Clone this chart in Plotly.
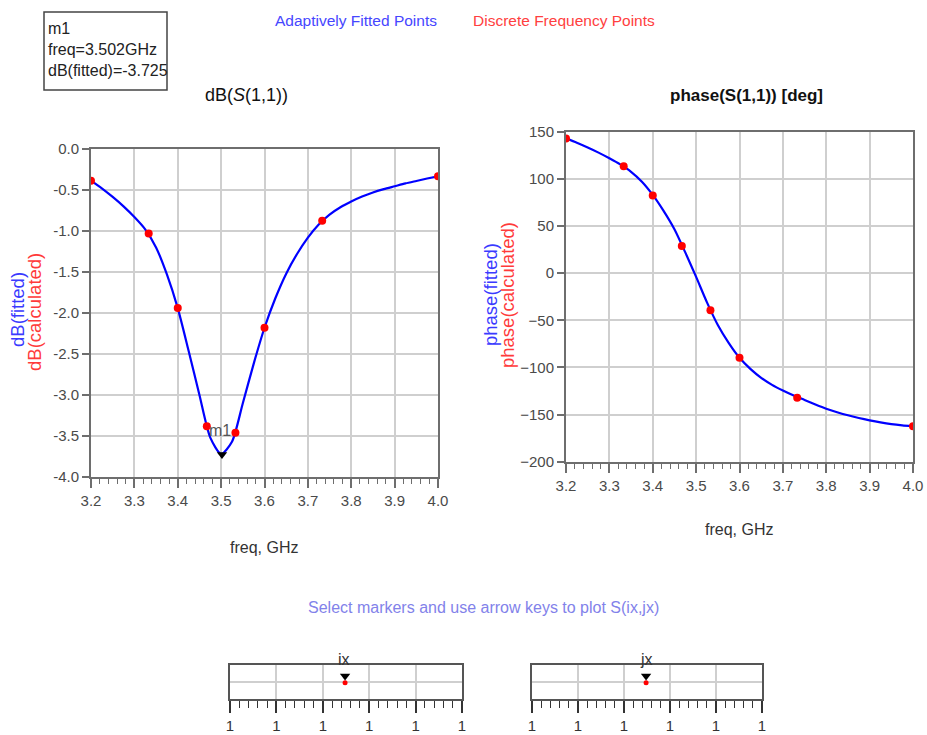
import plotly.graph_objects as go

# ---------------- data ----------------
freq_discrete = [3.2, 3.333, 3.4, 3.467, 3.533, 3.6, 3.733, 4.0]
db_calculated = [-0.386, -1.03, -1.94, -3.38, -3.46, -2.18, -0.874, -0.333]
phase_calculated = [142.9, 113.3, 82.3, 28.9, -39.5, -89.8, -132.2, -162.4]

freq_fit = [3.2, 3.225, 3.25, 3.275, 3.3, 3.325, 3.35, 3.375, 3.4, 3.425, 3.45, 3.475, 3.5,
            3.525, 3.55, 3.575, 3.6, 3.625, 3.65, 3.675, 3.7, 3.725, 3.75, 3.775, 3.8,
            3.825, 3.85, 3.875, 3.9, 3.925, 3.95, 3.975, 4.0]
db_fitted = [-0.386, -0.48, -0.585, -0.70, -0.83, -0.98, -1.20, -1.53, -1.94, -2.46, -3.0, -3.52, -3.72,
             -3.57, -3.10, -2.62, -2.18, -1.82, -1.52, -1.28, -1.08, -0.92, -0.80, -0.71, -0.64,
             -0.58, -0.53, -0.49, -0.455, -0.42, -0.39, -0.36, -0.333]
phase_fitted = [142.9, 138.2, 133.2, 127.8, 121.8, 115.3, 107.5, 97.0, 83.0, 66.0, 46.5, 22.0, -4.0,
                -31.0, -55.0, -74.0, -89.8, -101.5, -111.0, -118.5, -124.5, -129.8, -134.5, -139.3, -143.8,
                -147.5, -150.8, -153.6, -156.1, -158.3, -160.1, -161.4, -162.4]

marker_freq = 3.502
marker_db = -3.725

x_ticks = [3.2, 3.3, 3.4, 3.5, 3.6, 3.7, 3.8, 3.9, 4.0]
x_ticktext = ["3.2", "3.3", "3.4", "3.5", "3.6", "3.7", "3.8", "3.9", "4.0"]
db_ticks = [0.0, -0.5, -1.0, -1.5, -2.0, -2.5, -3.0, -3.5, -4.0]
db_ticktext = ["0.0", "-0.5", "-1.0", "-1.5", "-2.0", "-2.5", "-3.0", "-3.5", "-4.0"]
phase_ticks = [150, 100, 50, 0, -50, -100, -150, -200]

slider_ticks = [0, 1, 2, 3, 4, 5]
slider_ticktext = ["1", "1", "1", "1", "1", "1"]
slider_marker_pos = [2.48, 2.48]

# ---------------- layout helpers ----------------
W, H = 927, 735
def fx(p):
    return p / W
def fy(p):
    return 1 - p / H

FONT = "Liberation Sans, Arial, sans-serif"
BLUE = "#0000ff"
RED = "#ff0000"
AX = "#6e6e6e"
GRID = "#cfcfcf"
TICKC = "#4a4a4a"

fig = go.Figure()

# left plot
fig.add_trace(go.Scatter(x=freq_fit, y=db_fitted, mode="lines", line=dict(color=BLUE, width=2.2, shape="spline", smoothing=0.7),
                         xaxis="x", yaxis="y", showlegend=False))
fig.add_trace(go.Scatter(x=freq_discrete, y=db_calculated, mode="markers", marker=dict(color=RED, size=8),
                         xaxis="x", yaxis="y", showlegend=False))
fig.add_trace(go.Scatter(x=[marker_freq], y=[marker_db], mode="markers",
                         marker=dict(symbol="triangle-down", color="black", size=9),
                         xaxis="x", yaxis="y", showlegend=False))
# right plot
fig.add_trace(go.Scatter(x=freq_fit, y=phase_fitted, mode="lines", line=dict(color=BLUE, width=2.2, shape="spline", smoothing=0.7),
                         xaxis="x2", yaxis="y2", showlegend=False))
fig.add_trace(go.Scatter(x=freq_discrete, y=phase_calculated, mode="markers", marker=dict(color=RED, size=8),
                         xaxis="x2", yaxis="y2", showlegend=False))
# slider markers
for i, ax in enumerate(["3", "4"]):
    fig.add_trace(go.Scatter(x=[slider_marker_pos[i]], y=[0.95], mode="markers",
                             marker=dict(color=RED, size=5), xaxis="x" + ax, yaxis="y" + ax, showlegend=False))
    fig.add_trace(go.Scatter(x=[slider_marker_pos[i]], y=[1.35], mode="markers",
                             marker=dict(symbol="triangle-down", color="black", size=9),
                             xaxis="x" + ax, yaxis="y" + ax, showlegend=False))

tickfont = dict(family=FONT, size=15, color=TICKC)

def freq_axis(domain, anchor):
    return dict(domain=domain, anchor=anchor, range=[3.2, 4.0], tickmode="array", tickvals=x_ticks,
                ticktext=x_ticktext, ticks="outside", ticklen=9, tickwidth=1.5, tickcolor=AX,
                minor=dict(dtick=0.02, tick0=3.2, ticks="outside", ticklen=5, tickwidth=1, tickcolor=AX, showgrid=False),
                showgrid=True, gridcolor=GRID, gridwidth=1.5, showline=True, mirror=True, linecolor=AX,
                linewidth=2, zeroline=False, tickfont=tickfont, fixedrange=True, automargin=False)

def slider_x(domain, anchor):
    return dict(domain=domain, anchor=anchor, range=[0, 5], tickmode="array", tickvals=slider_ticks,
                ticktext=slider_ticktext, ticks="outside", ticklen=12, tickwidth=1.5, tickcolor="#333",
                minor=dict(dtick=0.2, tick0=0, ticks="outside", ticklen=7, tickwidth=1, tickcolor="#333", showgrid=False),
                showgrid=True, gridcolor=GRID, gridwidth=1.5, showline=True, mirror=True, linecolor="#555",
                linewidth=1.5, zeroline=False, tickfont=dict(family=FONT, size=15, color="#333"), fixedrange=True,
                automargin=False)

def slider_y(domain, anchor):
    return dict(domain=domain, anchor=anchor, range=[0, 2], tickmode="array", tickvals=[1], showticklabels=False,
                ticks="", showgrid=True, gridcolor=GRID, gridwidth=1.5, showline=True, mirror=True,
                linecolor="#555", linewidth=1.5, zeroline=False, fixedrange=True, automargin=False)

layout = dict(
    width=W, height=H, margin=dict(l=0, r=0, t=0, b=0, pad=0, autoexpand=False),
    paper_bgcolor="white", plot_bgcolor="white", showlegend=False,
    xaxis=freq_axis([fx(91), fx(438)], "y"),
    yaxis=dict(domain=[fy(477), fy(149)], anchor="x", range=[-4.0, 0.0], tickmode="array", tickvals=db_ticks,
               ticktext=db_ticktext, ticks="outside", ticklen=7, tickwidth=1.5, tickcolor=AX,
               showgrid=True, gridcolor=GRID, gridwidth=1.5, showline=True, mirror=True, linecolor=AX,
               linewidth=2, zeroline=False, tickfont=tickfont, fixedrange=True, automargin=False),
    xaxis2=freq_axis([fx(566), fx(913)], "y2"),
    yaxis2=dict(domain=[fy(461.7), fy(131.7)], anchor="x2", range=[-200, 150], tickmode="array",
                tickvals=phase_ticks, ticks="outside", ticklen=7, tickwidth=1.5, tickcolor=AX,
                showgrid=True, gridcolor=GRID, gridwidth=1.5, showline=True, mirror=True, linecolor=AX,
                linewidth=2, zeroline=False, tickfont=tickfont, fixedrange=True, automargin=False),
    xaxis3=slider_x([fx(230), fx(462)], "y3"),
    yaxis3=slider_y([fy(699), fy(665)], "x3"),
    xaxis4=slider_x([fx(532), fx(762)], "y4"),
    yaxis4=slider_y([fy(699), fy(665)], "x4"),
)
fig.update_layout(**layout)

def ann(text, x, y, size=15.5, color="black", xanchor="center", yanchor="middle", angle=0, align="center"):
    fig.add_annotation(text=text, x=fx(x), y=fy(y), xref="paper", yref="paper", showarrow=False,
                       xanchor=xanchor, yanchor=yanchor, textangle=angle, align=align,
                       font=dict(family=FONT, size=size, color=color))

# marker readout box
fig.add_shape(type="rect", xref="paper", yref="paper", x0=fx(44), x1=fx(167), y0=fy(90), y1=fy(12),
              line=dict(color="#444", width=1.5))
ann("m1<br>freq=%.3fGHz<br>dB(fitted)=%.3f" % (marker_freq, marker_db), 46, 50, size=16, color="#222",
    xanchor="left", align="left")

# legend texts
ann("Adaptively Fitted Points", 356, 20, color="#4646ff")
ann("Discrete Frequency Points", 564, 20, color="#ff4040")

# titles
ann("dB(<i>S</i>(1,1))", 246, 95, size=18, color="#111")
ann("<b>phase(S(1,1)) [deg]</b>", 746, 95, size=17, color="#111")

# y-axis titles
ann("dB(fitted)", 17, 310, size=18.5, color="#3a3aff", angle=-90)
ann("dB(calculated)", 34, 312, size=18.5, color="#ff3a3a", angle=-90)
ann("phase(fitted)", 490, 295, size=18.5, color="#3a3aff", angle=-90)
ann("phase(calculated)", 507, 295, size=18.5, color="#ff3a3a", angle=-90)

# x-axis titles
ann("freq, GHz", 264, 547, size=16, color="#333")
ann("freq, GHz", 739, 529, size=16, color="#333")

# marker label
fig.add_annotation(text="m1", x=marker_freq, y=marker_db, xref="x", yref="y", showarrow=False, yshift=24,
                   xshift=-2, font=dict(family=FONT, size=16, color="#555"))

# bottom instructions
ann("Select markers and use arrow keys to plot S(ix,jx)", 483, 607, size=16, color="#8282ea")
ann("ix", 344, 659, size=16, color="#333")
ann("jx", 646, 659, size=16, color="#333")

fig.write_html("out.html")
